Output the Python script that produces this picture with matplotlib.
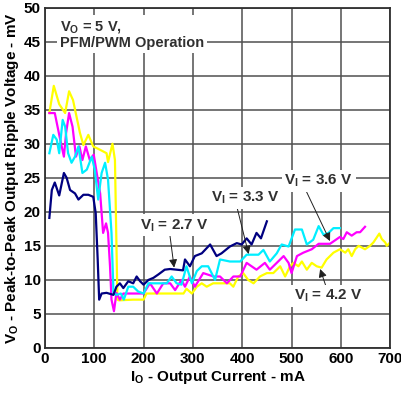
import matplotlib
matplotlib.use('Agg')
import matplotlib.pyplot as plt

# V_I = 2.7 V
x27 = [9, 14, 20, 29, 38.5, 44, 51, 61, 68, 78, 88, 98, 103, 107, 110, 115, 125, 139,
       145, 152, 159, 169, 179, 186, 193, 200, 210, 220, 230, 243, 254, 267, 280, 284,
       294, 304, 318, 335, 348, 358, 375, 389, 399, 409, 419, 429, 438, 450]
y27 = [19.1, 23.2, 24.3, 22.4, 25.7, 25.0, 23.2, 22.7, 21.8, 22.5, 22.5, 22.2, 19.8, 13.0,
       7.1, 8.0, 8.1, 7.8, 9.0, 9.5, 8.8, 9.8, 9.5, 10.5, 9.8, 9.3, 10.0, 10.3, 10.8, 11.5,
       11.6, 11.5, 11.4, 13.0, 12.0, 13.5, 13.9, 15.2, 13.5, 13.9, 14.9, 15.4, 15.2, 16.1,
       15.2, 16.9, 16.1, 18.6]

# V_I = 3.3 V
x33 = [9, 17, 24, 29, 36, 41, 47, 54, 61, 68, 76, 85, 95, 101, 108, 115, 122, 128, 135,
       139, 145, 154, 160, 169, 179, 189, 200, 210, 227, 247, 257, 267, 277, 287, 298,
       308, 318, 331, 345, 355, 375, 396, 409, 433, 443, 456, 470, 480, 494, 507, 521,
       531, 544, 555, 565, 575, 585, 598]
y33 = [28.6, 31.3, 30.6, 28.6, 33.5, 32.5, 28.6, 27.2, 28.1, 29.6, 25.7, 26.2, 28.1, 26.2,
       21.8, 25.7, 27.2, 24.7, 16.9, 8.1, 7.8, 8.0, 7.1, 9.0, 9.0, 8.3, 8.0, 9.5, 9.5, 9.5,
       10.5, 9.5, 9.3, 12.0, 9.5, 11.3, 12.0, 12.0, 10.0, 13.0, 12.7, 12.7, 13.7, 13.7, 14.4,
       12.7, 13.9, 15.2, 14.9, 17.4, 17.4, 15.2, 15.9, 17.9, 16.6, 16.9, 17.6, 17.6]

# V_I = 3.6 V
x36 = [9, 20, 29, 38.5, 43, 49, 56, 63, 70, 76, 83, 91, 99, 105, 112, 118, 124, 128, 132,
       135, 140, 145, 152, 159, 200, 213, 227, 240, 254, 264, 277, 284, 294, 304, 321,
       342, 355, 369, 382, 396, 409, 429, 446, 456, 470, 484, 494, 500, 511, 524, 541,
       555, 578, 598, 605, 612, 622, 632, 639, 649]
y36 = [34.5, 34.5, 31.3, 28.1, 31.6, 34.5, 32.5, 28.1, 29.6, 27.6, 29.6, 27.6, 28.4, 25.7,
       22.7, 16.9, 18.3, 16.9, 12.0, 7.1, 5.4, 8.1, 7.1, 8.0, 8.0, 9.5, 8.0, 9.5, 9.5, 8.5,
       10.0, 9.0, 10.5, 9.0, 11.0, 10.5, 10.5, 9.5, 10.5, 10.5, 12.5, 11.5, 12.5, 11.5, 12.5,
       13.5, 12.5, 11.0, 13.5, 14.0, 14.5, 15.3, 15.3, 16.3, 16.0, 17.0, 16.5, 17.0, 17.0,
       17.8]

# V_I = 4.2 V
x42 = [9, 18, 29, 41, 49, 57, 71, 78, 88, 98, 112, 125, 128, 137, 142, 147, 150, 179,
       200, 206, 281, 287, 298, 308, 318, 328, 341, 375, 382, 392, 402, 412, 423, 436,
       450, 463, 477, 487, 497, 504, 514, 521, 531, 541, 551, 561, 571, 585, 598, 609,
       615, 622, 629, 636, 649, 659, 666, 678, 683, 690, 693, 700]
y42 = [34.5, 38.5, 35.8, 34.5, 37.7, 36.4, 31.6, 29.8, 31.3, 29.6, 29.1, 28.6, 27.3, 30.0,
       27.6, 7.1, 7.0, 7.1, 7.1, 8.0, 8.0, 8.7, 8.0, 9.0, 9.5, 9.0, 9.5, 9.5, 9.0, 10.5, 11.0,
       10.0, 9.5, 10.5, 11.0, 11.0, 12.0, 10.5, 12.0, 12.5, 12.0, 12.7, 11.5, 12.5, 12.0,
       11.8, 13.0, 14.0, 14.5, 14.0, 14.5, 13.5, 14.5, 15.0, 14.5, 15.0, 15.5, 16.8, 16.0,
       15.5, 15.0, 15.5]

x_ticks = [0, 100, 200, 300, 400, 500, 600, 700]
y_ticks = [0, 5, 10, 15, 20, 25, 30, 35, 40, 45, 50]

plt.rcParams['font.family'] = 'Liberation Sans'
plt.rcParams['font.weight'] = 'bold'
plt.rcParams['mathtext.fontset'] = 'custom'
plt.rcParams['mathtext.rm'] = 'Liberation Sans:bold'
plt.rcParams['mathtext.it'] = 'Liberation Sans:bold'
plt.rcParams['mathtext.bf'] = 'Liberation Sans:bold'

fig = plt.figure(figsize=(4.01, 3.95), dpi=100)
ax = fig.add_axes([0.112, 0.119, 0.861, 0.862])

ax.plot(x42, y42, color='#ffff00', lw=1.6)
ax.plot(x36, y36, color='#ff00ff', lw=1.6)
ax.plot(x33, y33, color='#00eeff', lw=1.6)
ax.plot(x27, y27, color='#000080', lw=1.6)

ax.set_xlim(0, 700)
ax.set_ylim(0, 50)
ax.set_xticks(x_ticks)
ax.set_yticks(y_ticks)
ax.tick_params(length=0, labelsize=11, pad=3)
for lab in ax.get_xticklabels() + ax.get_yticklabels():
    lab.set_fontweight('bold')
ax.grid(True, color='#505050', lw=1.1)
ax.set_axisbelow(True)
for s in ax.spines.values():
    s.set_color('#303030')
    s.set_linewidth(1.3)

ax.set_xlabel(r'I$_\mathrm{O}$ - Output Current - mA', fontsize=11, fontweight='bold', labelpad=2)
ax.set_ylabel(r'V$_\mathrm{O}$ - Peak-to-Peak Output Ripple Voltage - mV', fontsize=11,
              fontweight='bold', labelpad=2)

box = dict(facecolor='white', edgecolor='none', pad=2)
ax.text(30, 48.3, 'V$_\\mathrm{O}$ = 5 V,\nPFM/PWM Operation', fontsize=10.5,
        fontweight='bold', va='top', ha='left', color='#303030', bbox=box, linespacing=1.1)

arrow = dict(arrowstyle='-|>', color='#202020', lw=0.7, mutation_scale=12, shrinkA=0, shrinkB=0)
labels = [('V$_\\mathrm{I}$ = 2.7 V', (262, 18.0), (253, 16.8), (262, 11.8)),
          ('V$_\\mathrm{I}$ = 3.3 V', (406, 22.0), (389, 20.8), (413, 13.8)),
          ('V$_\\mathrm{I}$ = 3.6 V', (555, 24.5), (528, 23.3), (578, 15.7)),
          ('V$_\\mathrm{I}$ = 4.2 V', (575, 7.6), (571, 8.8), (558, 11.6))]
for txt, tpos, apos, tip in labels:
    ax.annotate('', xy=tip, xytext=apos, arrowprops=arrow)
    ax.text(tpos[0], tpos[1], txt, fontsize=11, fontweight='bold', ha='center',
            va='center', color='#303030', bbox=box)

fig.savefig('out.png', dpi=100)
